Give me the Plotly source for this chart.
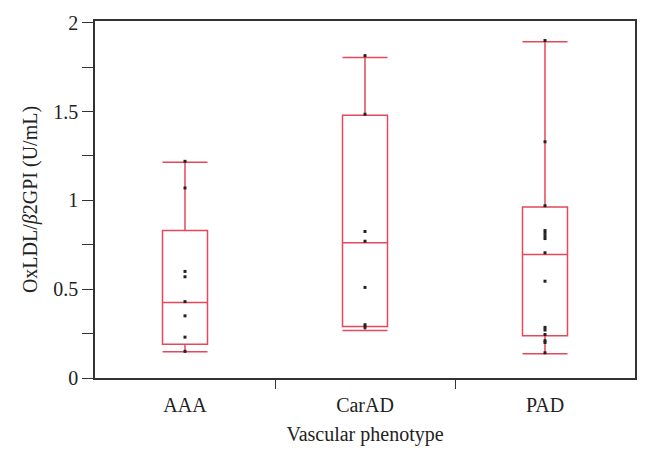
import plotly.graph_objects as go

categories = ["AAA", "CarAD", "PAD"]

# box statistics
lower_fence = [0.148, 0.268, 0.137]
q1_vals = [0.19, 0.29, 0.238]
median_vals = [0.425, 0.762, 0.695]
q3_vals = [0.83, 1.48, 0.963]
upper_fence = [1.215, 1.805, 1.893]

# individual points
aaa_points = [1.22, 1.07, 0.60, 0.57, 0.43, 0.35, 0.23, 0.15]
carad_points = [1.815, 1.485, 0.825, 0.77, 0.51, 0.30, 0.285]
pad_points = [1.90, 1.33, 0.97, 0.83, 0.815, 0.80, 0.785, 0.705, 0.545,
              0.285, 0.27, 0.245, 0.21, 0.20, 0.142]

point_sets = [aaa_points, carad_points, pad_points]
positions = list(range(len(categories)))

box_color = "#E5475B"
axis_color = "#333333"
font_family = "Liberation Serif, Times New Roman, serif"

fig = go.Figure()
fig.add_trace(go.Box(
    x=positions,
    q1=q1_vals, median=median_vals, q3=q3_vals,
    lowerfence=lower_fence, upperfence=upper_fence,
    boxpoints=False,
    width=0.25,
    whiskerwidth=1,
    fillcolor="rgba(0,0,0,0)",
    line=dict(color=box_color, width=1.5),
    showlegend=False,
))

for pos, pts in zip(positions, point_sets):
    fig.add_trace(go.Scatter(
        x=[pos] * len(pts), y=pts,
        mode="markers",
        marker=dict(symbol="square", size=3, color="#222222", line=dict(width=0)),
        showlegend=False,
        hoverinfo="y",
    ))

fig.update_layout(
    width=648, height=461,
    margin=dict(l=87, r=21, t=13, b=91, autoexpand=False),
    paper_bgcolor="white", plot_bgcolor="white",
    font=dict(family=font_family, size=20, color="#222222"),
    xaxis=dict(
        range=[-0.5, 2.5],
        tickmode="array", tickvals=positions, ticktext=categories,
        showline=True, linecolor=axis_color, linewidth=1.5, mirror=True,
        ticks="outside", ticklen=8, tickcolor="rgba(0,0,0,0)",
        minor=dict(tickmode="array", tickvals=[0.5, 1.5], ticks="outside",
                   ticklen=9, tickwidth=1, tickcolor=axis_color),
        showgrid=False, zeroline=False, automargin=False,
        title=dict(text="Vascular phenotype", standoff=12, font=dict(size=20)),
        tickfont=dict(size=20),
    ),
    yaxis=dict(
        range=[0, 2.01],
        tickvals=[0, 0.5, 1, 1.5, 2],
        ticktext=["0", "0.5", "1", "1.5", "2"],
        showline=True, linecolor=axis_color, linewidth=1.5, mirror=True,
        ticks="outside", ticklen=11, tickwidth=1, tickcolor=axis_color,
        minor=dict(tickvals=[0.25, 0.75, 1.25, 1.75], ticks="outside", ticklen=11,
                   tickwidth=1, tickcolor=axis_color),
        showgrid=False, zeroline=False, automargin=False,
        title=dict(text="OxLDL/<i>β</i>2GPI (U/mL)", standoff=10, font=dict(size=20)),
        tickfont=dict(size=20),
    ),
)

fig.write_html("out.html")
